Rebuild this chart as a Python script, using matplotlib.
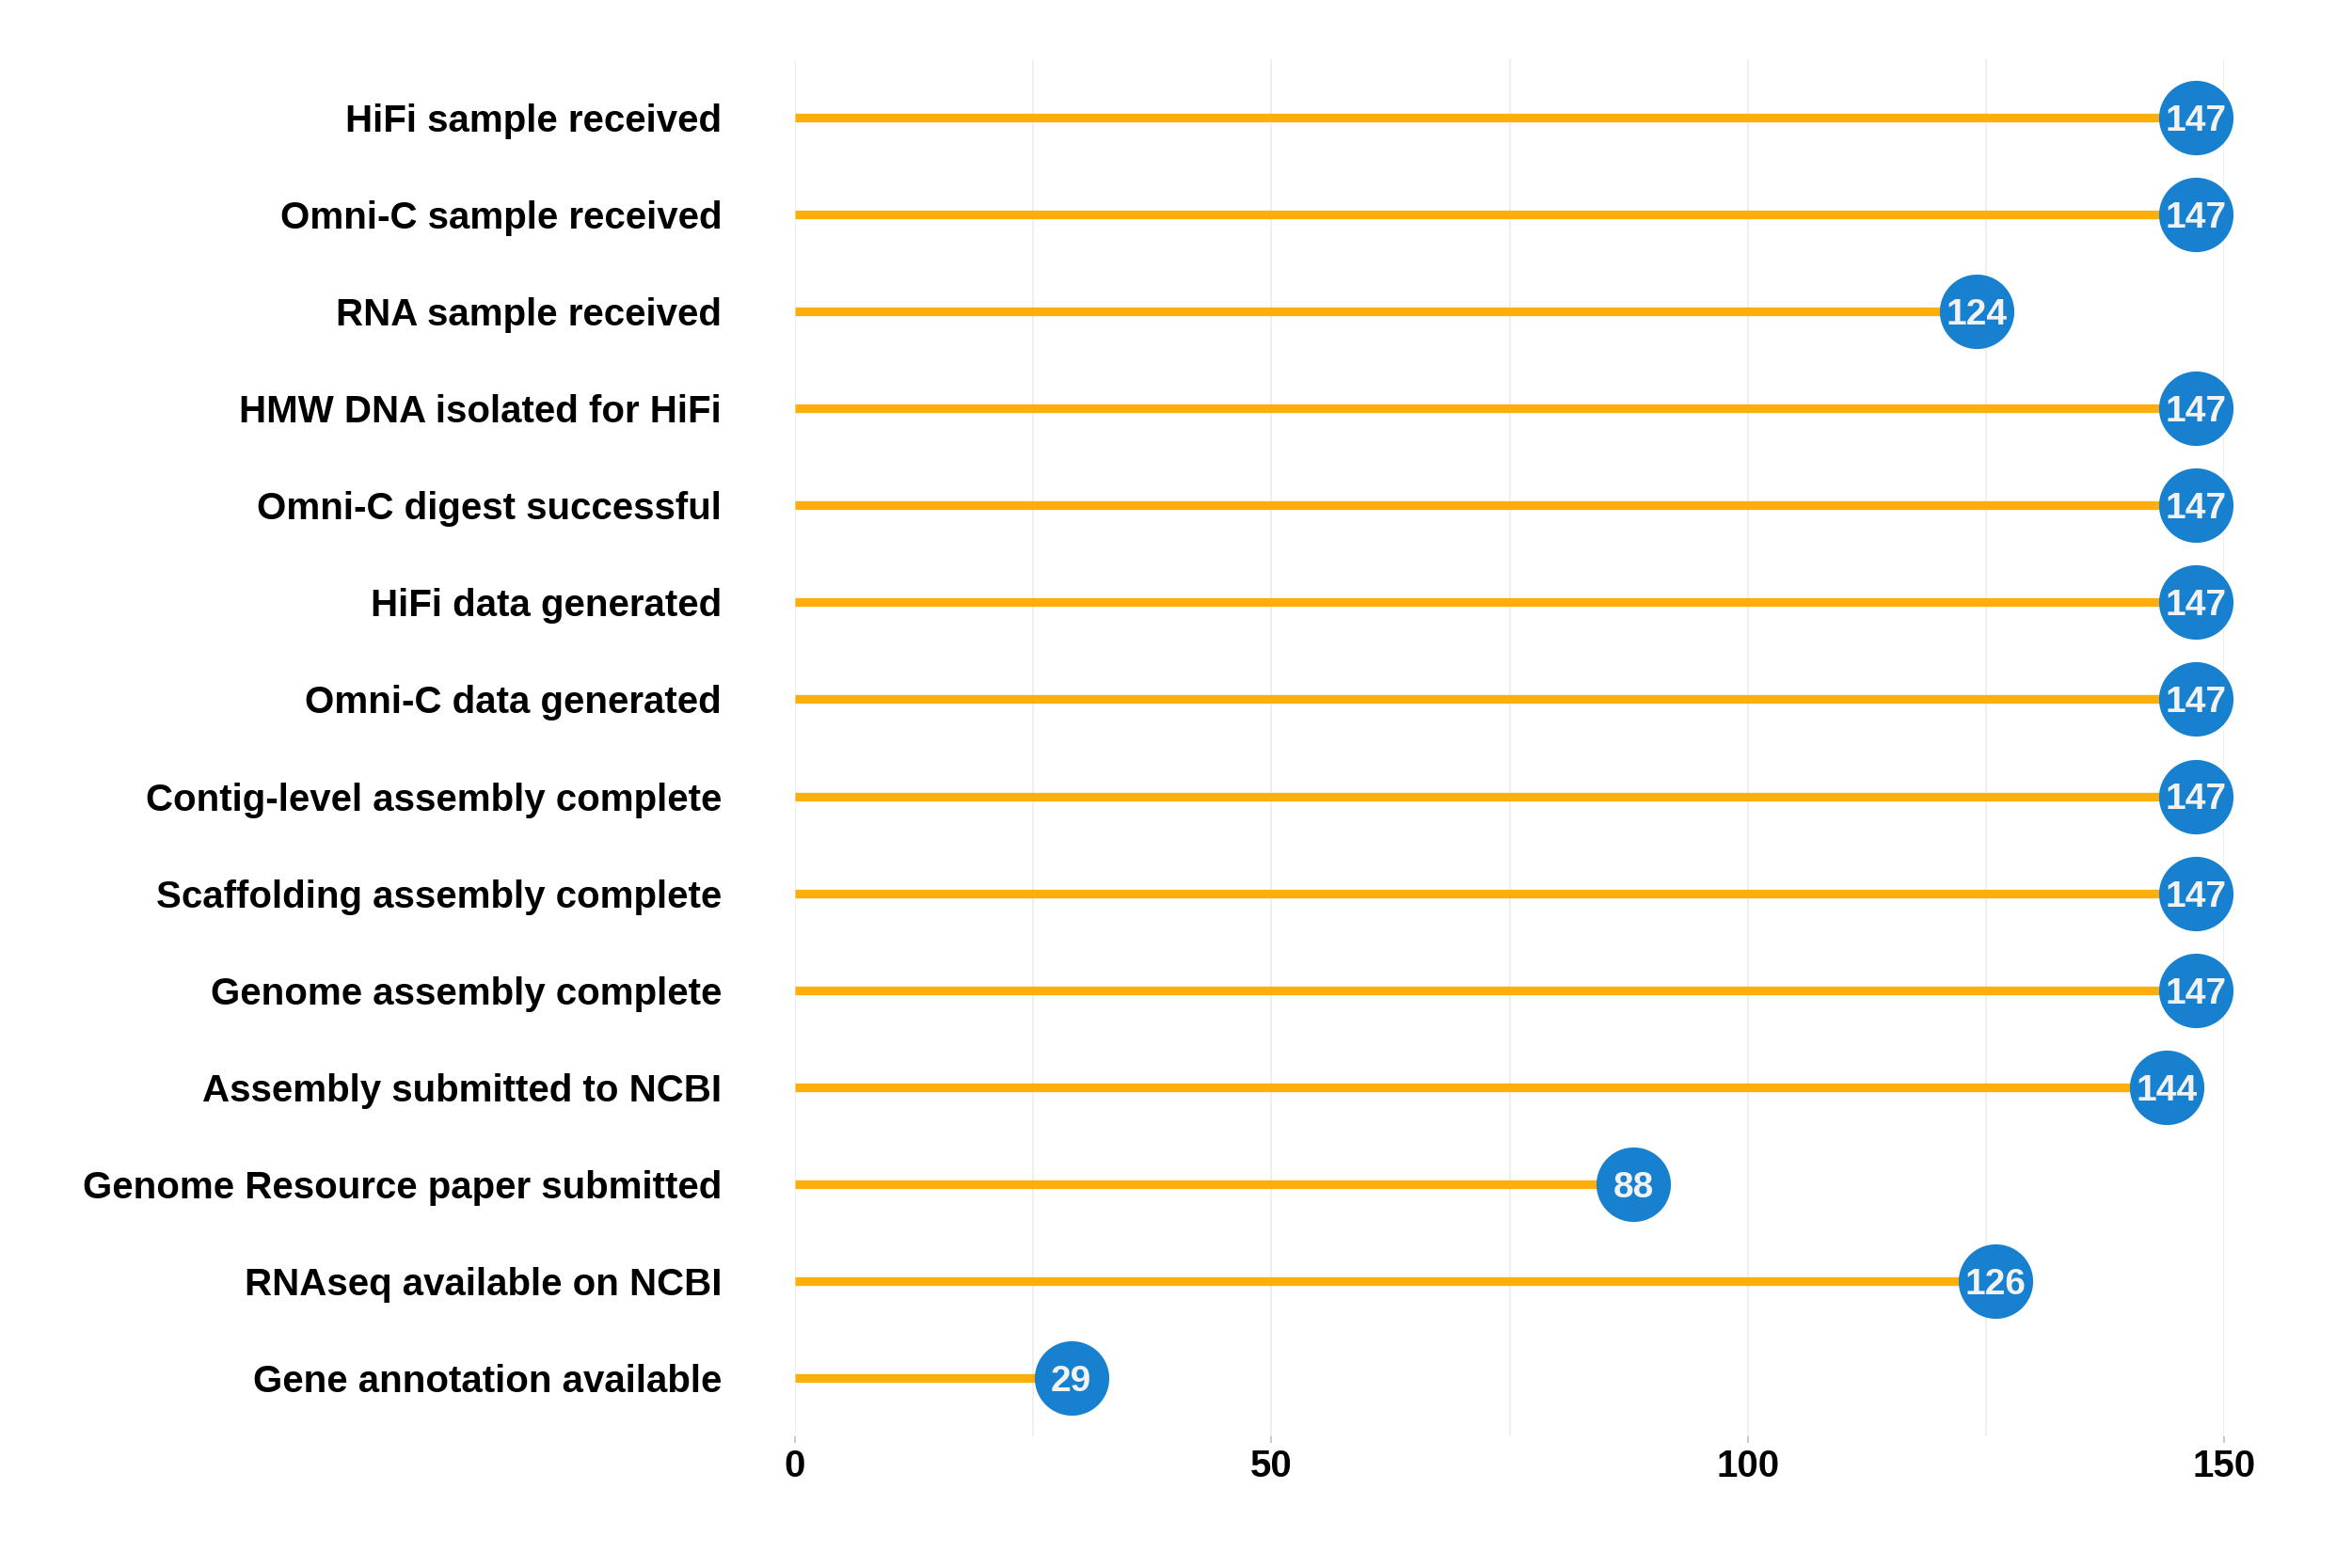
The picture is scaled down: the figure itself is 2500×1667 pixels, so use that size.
import matplotlib
matplotlib.use("Agg")
import matplotlib.pyplot as plt
from matplotlib.transforms import offset_copy

categories = [
    "HiFi sample received",
    "Omni-C sample received",
    "RNA sample received",
    "HMW DNA isolated for HiFi",
    "Omni-C digest successful",
    "HiFi data generated",
    "Omni-C data generated",
    "Contig-level assembly complete",
    "Scaffolding assembly complete",
    "Genome assembly complete",
    "Assembly submitted to NCBI",
    "Genome Resource paper submitted",
    "RNAseq available on NCBI",
    "Gene annotation available",
]
values = [147, 147, 124, 147, 147, 147, 147, 147, 147, 147, 144, 88, 126, 29]
x_ticks = [0, 50, 100, 150]

plt.rcParams['font.family'] = ['Liberation Sans', 'DejaVu Sans']

fig = plt.figure(figsize=(25, 16.67), dpi=100)
ax = fig.add_axes([845/2500, 1 - 1527/1667, 1519/2500, (1527 - 63)/1667])

ypos = list(range(len(categories)))
line_col = "#FDAE0B"
dot_col = "#1881CF"

ax.hlines(ypos, 0, values, color=line_col, linewidth=6.7, zorder=2)
ax.scatter(values, ypos, s=57**2, color=dot_col, zorder=3, clip_on=False, linewidths=0)
num_fs = 28
tr = offset_copy(ax.transData, fig=fig, y=-0.716 * num_fs / 2, units='points')
for v, y in zip(values, ypos):
    ax.text(v, y, str(v), ha='center', va='baseline', color='#F2F2F2',
            fontsize=num_fs, fontweight='bold', zorder=4, clip_on=False,
            transform=tr)

ax.set_xlim(0, 150)
ax.set_ylim(len(categories) - 0.4, -0.6)
ax.set_yticks(ypos)
ax.set_yticklabels(categories, fontsize=29, fontweight='bold', color='black')
ax.set_xticks(x_ticks)
ax.set_xticklabels([str(t) for t in x_ticks], fontsize=29, fontweight='bold', color='black')
ax.set_xticks([25, 75, 125], minor=True)
ax.grid(axis='x', which='both', color='#EBEBEB', linewidth=1.1, zorder=0)
ax.grid(axis='y', visible=False)
ax.tick_params(axis='y', length=0, pad=56)
ax.tick_params(axis='x', which='major', length=5, width=1.1, color='#BBBBBB', pad=4)
ax.tick_params(axis='x', which='minor', length=0)
for s in ax.spines.values():
    s.set_visible(False)
ax.set_axisbelow(True)

fig.savefig("out.png", dpi=100, facecolor='white')
